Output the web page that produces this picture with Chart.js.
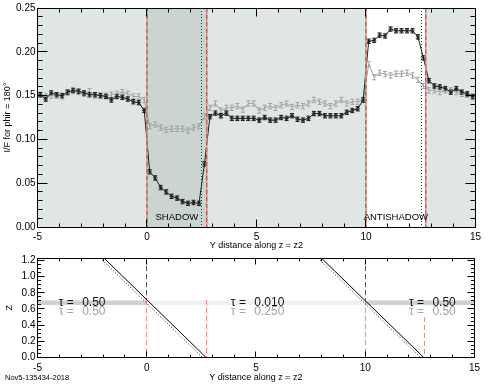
<!DOCTYPE html>
<html>
<head>
<meta charset="utf-8">
<script src="https://cdn.jsdelivr.net/npm/chart.js@4.4.0/dist/chart.umd.min.js"></script>
<style>
  html, body { margin: 0; padding: 0; background: #fff; }
  #wrap { position: relative; width: 485px; height: 386px; }
  #top { position: absolute; left: 0; top: 0; }
  #bottom { position: absolute; left: 0; top: 250px; }
  #stamp { position: absolute; left: 5px; top: 373px; font: 7.5px "Liberation Sans", Arial, sans-serif; color: #000; }
</style>
</head>
<body>
<div id="wrap">
  <canvas id="top" width="485" height="252"></canvas>
  <canvas id="bottom" width="485" height="136"></canvas>
  <div id="stamp">Nov5-135434-2018</div>
</div>
<script>
// sample positions along the ring (Y distance along z = z2)
const yPos = [
  -4.875, -4.625, -4.375, -4.125, -3.875, -3.625, -3.375, -3.125, -2.875, -2.625,
  -2.375, -2.125, -1.875, -1.625, -1.375, -1.125, -0.875, -0.625, -0.375, -0.125,
  0.125, 0.375, 0.625, 0.875, 1.125, 1.375, 1.625, 1.875, 2.125, 2.375, 2.625,
  2.875, 3.125, 3.375, 3.625, 3.875, 4.125, 4.375, 4.625, 4.875, 5.125,
  5.375, 5.625, 5.875, 6.125, 6.375, 6.625, 6.875, 7.125, 7.375, 7.625,
  7.875, 8.125, 8.375, 8.625, 8.875, 9.125, 9.375, 9.625, 9.875,
  10.125, 10.375, 10.625, 10.875, 11.125, 11.375, 11.625, 11.875, 12.125, 12.375,
  12.625, 12.875, 13.125, 13.375, 13.625, 13.875, 14.125, 14.375, 14.625, 14.875
]

// I/F, dark series
const blackIF = [
  0.151, 0.146, 0.153, 0.151, 0.150, 0.154, 0.156, 0.155, 0.153, 0.151,
  0.151, 0.150, 0.149, 0.145, 0.149, 0.148, 0.146, 0.143, 0.142, 0.133,
  0.063, 0.056, 0.045, 0.040, 0.035, 0.033, 0.029, 0.027, 0.028, 0.027, 0.072,
  0.126, 0.130, 0.127, 0.130, 0.124, 0.124, 0.124, 0.124, 0.124, 0.122,
  0.125, 0.122, 0.122, 0.125, 0.124, 0.127, 0.123, 0.122, 0.124, 0.1295,
  0.1295, 0.127, 0.127, 0.127, 0.127, 0.131, 0.133, 0.135, 0.145,
  0.212, 0.213, 0.219, 0.218, 0.226, 0.224, 0.224, 0.224, 0.224, 0.217,
  0.193, 0.167, 0.161, 0.160, 0.158, 0.154, 0.158, 0.154, 0.152, 0.149
]

// I/F, grey series
const grayIF = [
  0.151, 0.149, 0.150, 0.150, 0.149, 0.153, 0.155, 0.154, 0.152, 0.155,
  0.150, 0.150, 0.150, 0.151, 0.152, 0.154, 0.152, 0.149, 0.149, 0.145,
  0.115, 0.117, 0.1135, 0.111, 0.112, 0.112, 0.112, 0.110, 0.1135, 0.115, 0.126,
  0.136, 0.141, 0.133, 0.136, 0.136, 0.138, 0.134, 0.141, 0.141, 0.133,
  0.136, 0.138, 0.136, 0.139, 0.141, 0.137, 0.139, 0.138, 0.141, 0.145,
  0.143, 0.141, 0.138, 0.141, 0.145, 0.141, 0.143, 0.143, 0.145,
  0.186, 0.171, 0.176, 0.1745, 0.173, 0.175, 0.175, 0.176, 0.173, 0.168,
  0.161, 0.156, 0.156, 0.154, 0.156, 0.156, 0.154, 0.152, 0.151, 0.148
]

const blackErr = 0.0025
const grayErr = 0.003

// tick labels
const xTicks = [-5, 0, 5, 10, 15]
const ifTicks = [0, 0.05, 0.10, 0.15, 0.20, 0.25]
const zTicks = [0, 0.2, 0.4, 0.6, 0.8, 1.0, 1.2]

// shadow / antishadow geometry
const regionEdges = [-5, 0, 2.73, 10, 12.73, 15]
const edgeLines = [0, 2.73, 10, 12.73]
const dottedLines = [2.5, 12.55]
const regionNames = ['SHADOW', 'ANTISHADOW']
const regionNameX = [1.365, 11.365]

// lower panel
const rayZ = [1.23, 0]
const solidRayX = [[-1.96, 2.72], [7.99, 12.68]]
const dottedRayX = [[-2.13, 2.55], [7.84, 12.53]]
const edgeTopZ = [0.71, 0.71, 0.71, 0.5]
const upperDashX = [0, 10]
const bandZ = [0.65, 0.705]
const bandEdges = [-5, 0, 10, 15]
const tauX = [-4.03, 3.85, 12.0]
const tauOuter = ['0.50', '0.010', '0.50']
const tauInner = ['0.50', '0.250', '0.50']

const FONT = '"Liberation Sans", Arial, Helvetica, sans-serif'
Chart.defaults.font.family = FONT
Chart.defaults.color = '#000'

const regionFill = ['#dfe6e4', '#cad4d1', '#dfe6e4', '#ffffff', '#dfe6e4']
const bandFill = ['#c9d3d0', '#edf1f1', '#c9d3d0']
const redLine = '#ef8a84'
const noGrid = { display: false, drawTicks: false }

// inward ticks on all four sides + frame (IDL look)
const frameTicks = (xMinor, yMinor, xMaj, xMin, yMaj, yMin) => ({
  id: 'frameTicks',
  afterDraw(chart) {
    const { ctx, chartArea: a, scales: { x, y } } = chart
    const L = Math.floor(a.left) + 0.5, R = Math.floor(a.right) + 0.5
    const T = Math.floor(a.top) + 0.5, B = Math.floor(a.bottom) + 0.5
    ctx.save()
    ctx.strokeStyle = '#000'
    ctx.lineWidth = 1
    ctx.beginPath()
    ctx.rect(L, T, R - L, B - T)
    const xt = (v, len) => {
      const p = Math.floor(x.getPixelForValue(v)) + 0.5
      ctx.moveTo(p, B); ctx.lineTo(p, B - len)
      ctx.moveTo(p, T); ctx.lineTo(p, T + len)
    }
    const yt = (v, len) => {
      const p = Math.floor(y.getPixelForValue(v)) + 0.5
      ctx.moveTo(L, p); ctx.lineTo(L + len, p)
      ctx.moveTo(R, p); ctx.lineTo(R - len, p)
    }
    for (let k = Math.ceil(x.min / xMinor); k <= Math.floor(x.max / xMinor); k++) xt(k * xMinor, xMin)
    for (let k = Math.ceil(y.min / yMinor - 1e-6); k <= Math.floor(y.max / yMinor + 1e-6); k++) yt(k * yMinor, yMin)
    x.ticks.forEach(t => xt(t.value, xMaj))
    y.ticks.forEach(t => yt(t.value, yMaj))
    ctx.stroke()
    ctx.restore()
  }
})

const topDecor = {
  id: 'topDecor',
  beforeDatasetsDraw(chart) {
    const { ctx, chartArea: a, scales: { x, y } } = chart
    ctx.save()
    // background regions
    for (let i = 0; i < regionEdges.length - 1; i++) {
      const x0 = x.getPixelForValue(regionEdges[i]), x1 = x.getPixelForValue(regionEdges[i + 1])
      ctx.fillStyle = regionFill[i]
      ctx.fillRect(x0, a.top, x1 - x0, a.bottom - a.top)
    }
    // error bars
    ctx.beginPath()
    ctx.rect(a.left, a.top, a.right - a.left, a.bottom - a.top)
    ctx.clip()
    chart.data.datasets.slice().reverse().forEach(ds => {
      ctx.strokeStyle = ds.borderColor
      ctx.lineWidth = 1
      ctx.beginPath()
      ds.data.forEach(p => {
        const px = x.getPixelForValue(p.x)
        const y1 = y.getPixelForValue(p.y - ds.err), y2 = y.getPixelForValue(p.y + ds.err)
        ctx.moveTo(px, y1); ctx.lineTo(px, y2)
        ctx.moveTo(px - 2, y1); ctx.lineTo(px + 2, y1)
        ctx.moveTo(px - 2, y2); ctx.lineTo(px + 2, y2)
      })
      ctx.stroke()
    })
    ctx.restore()
  },
  afterDatasetsDraw(chart) {
    const { ctx, chartArea: a, scales: { x, y } } = chart
    ctx.save()
    edgeLines.forEach(v => {
      const p = x.getPixelForValue(v)
      ctx.setLineDash([])
      ctx.strokeStyle = redLine
      ctx.lineWidth = 1.6
      ctx.beginPath(); ctx.moveTo(p, a.top); ctx.lineTo(p, a.bottom); ctx.stroke()
      ctx.setLineDash([4, 3])
      ctx.strokeStyle = '#6b6b6b'
      ctx.lineWidth = 1
      ctx.beginPath(); ctx.moveTo(p, a.top); ctx.lineTo(p, a.bottom); ctx.stroke()
    })
    ctx.setLineDash([1, 2])
    ctx.strokeStyle = '#333'
    dottedLines.forEach(v => {
      const p = Math.floor(x.getPixelForValue(v)) + 0.5
      ctx.beginPath(); ctx.moveTo(p, a.top); ctx.lineTo(p, a.bottom); ctx.stroke()
    })
    ctx.setLineDash([])
    ctx.fillStyle = '#000'
    ctx.font = '9.5px ' + FONT
    ctx.textAlign = 'center'
    ctx.textBaseline = 'middle'
    regionNames.forEach((name, i) => {
      ctx.fillText(name, x.getPixelForValue(regionNameX[i]), y.getPixelForValue(0.0115))
    })
    ctx.restore()
  }
}

new Chart(document.getElementById('top'), {
  type: 'line',
  data: {
    datasets: [
      {
        label: 'dark',
        data: yPos.map((v, i) => ({ x: v, y: blackIF[i] })),
        err: blackErr,
        borderColor: '#1e1e1e',
        borderWidth: 1,
        pointStyle: 'star',
        pointRadius: 2.2,
        pointBorderColor: '#1e1e1e',
        pointBorderWidth: 0.8,
        tension: 0,
      },
      {
        label: 'grey',
        data: yPos.map((v, i) => ({ x: v, y: grayIF[i] })),
        err: grayErr,
        borderColor: '#9ca5a3',
        borderWidth: 1,
        pointRadius: 0,
        tension: 0,
      },
    ],
  },
  options: {
    responsive: false,
    animation: false,
    devicePixelRatio: 1,
    layout: { padding: { left: 0, right: 5.5, top: 7, bottom: 0 } },
    plugins: { legend: { display: false }, tooltip: { enabled: false } },
    scales: {
      x: {
        type: 'linear', min: -5, max: 15,
        afterBuildTicks: s => { s.ticks = xTicks.map(v => ({ value: v })) },
        afterFit: s => { s.height = 25 },
        grid: noGrid, border: { display: false },
        ticks: { padding: 4, autoSkip: false, maxRotation: 0, font: { size: 10 }, callback: v => String(v) },
        title: { display: true, text: 'Y distance along z = z2', font: { size: 9 }, padding: { top: 0, bottom: 1 } },
      },
      y: {
        min: 0, max: 0.25,
        afterBuildTicks: s => { s.ticks = ifTicks.map(v => ({ value: v })) },
        afterFit: s => { s.width = 37.5 },
        grid: noGrid, border: { display: false },
        ticks: { padding: 2, autoSkip: false, font: { size: 10 }, callback: v => v.toFixed(2) },
        title: { display: true, text: 'I/F for phir = 180°', font: { size: 9 }, padding: { top: 2, bottom: 0 } },
      },
    },
  },
  plugins: [topDecor, frameTicks(1, 0.01, 8, 4, 10, 5)],
})

const bottomDecor = {
  id: 'bottomDecor',
  beforeDatasetsDraw(chart) {
    const { ctx, chartArea: a, scales: { x, y } } = chart
    ctx.save()
    const b0 = y.getPixelForValue(bandZ[1]), b1 = y.getPixelForValue(bandZ[0])
    for (let i = 0; i < bandEdges.length - 1; i++) {
      const x0 = x.getPixelForValue(bandEdges[i]), x1 = x.getPixelForValue(bandEdges[i + 1])
      ctx.fillStyle = bandFill[i]
      ctx.fillRect(x0, b0, x1 - x0, b1 - b0)
    }
    ctx.lineWidth = 1
    ctx.setLineDash([5, 3])
    ctx.strokeStyle = '#555'
    upperDashX.forEach(v => {
      const p = Math.floor(x.getPixelForValue(v)) + 0.5
      ctx.beginPath(); ctx.moveTo(p, a.top); ctx.lineTo(p, y.getPixelForValue(edgeTopZ[0])); ctx.stroke()
    })
    ctx.strokeStyle = redLine
    edgeLines.forEach((v, i) => {
      const p = Math.floor(x.getPixelForValue(v)) + 0.5
      ctx.beginPath(); ctx.moveTo(p, y.getPixelForValue(edgeTopZ[i])); ctx.lineTo(p, a.bottom); ctx.stroke()
    })
    ctx.setLineDash([])
    ctx.font = '12px ' + FONT
    ctx.textAlign = 'left'
    ctx.textBaseline = 'middle'
    tauX.forEach((v, i) => {
      const px = x.getPixelForValue(v)
      ctx.fillStyle = '#9ea7a5'
      const gy = y.getPixelForValue(0.57)
      ctx.fillText('τ =', px, gy)
      ctx.fillText(tauInner[i], px + 23.5, gy)
      ctx.fillStyle = '#111'
      const by = y.getPixelForValue(0.672)
      ctx.fillText('τ =', px, by)
      ctx.fillText(tauOuter[i], px + 23.5, by)
    })
    ctx.restore()
  }
}

const rayData = xs => xs.map((v, i) => ({ x: v, y: rayZ[i] }))

new Chart(document.getElementById('bottom'), {
  type: 'line',
  data: {
    datasets: [
      ...solidRayX.map(xs => ({ data: rayData(xs), borderColor: '#000', borderWidth: 1, pointRadius: 0 })),
      ...dottedRayX.map(xs => ({ data: rayData(xs), borderColor: '#222', borderWidth: 1, borderDash: [1, 2], pointRadius: 0 })),
    ],
  },
  options: {
    responsive: false,
    animation: false,
    devicePixelRatio: 1,
    layout: { padding: { left: 0, right: 5.5, top: 5, bottom: 0 } },
    plugins: { legend: { display: false }, tooltip: { enabled: false } },
    scales: {
      x: {
        type: 'linear', min: -5, max: 15,
        afterBuildTicks: s => { s.ticks = xTicks.map(v => ({ value: v })) },
        afterFit: s => { s.height = 28.5 },
        grid: noGrid, border: { display: false },
        ticks: { padding: 5, autoSkip: false, maxRotation: 0, font: { size: 10 }, callback: v => String(v) },
        title: { display: true, text: 'Y distance along z = z2', font: { size: 9 }, padding: { top: 0, bottom: 3 } },
      },
      y: {
        min: 0, max: 1.23,
        afterBuildTicks: s => { s.ticks = zTicks.map(v => ({ value: v })) },
        afterFit: s => { s.width = 37.5 },
        grid: noGrid, border: { display: false },
        ticks: { padding: 2, autoSkip: false, font: { size: 10 }, callback: v => v.toFixed(1) },
        title: { display: true, text: 'Z', font: { size: 9 }, padding: { top: 4, bottom: 0 } },
      },
    },
  },
  plugins: [bottomDecor, frameTicks(1, 0.05, 6, 3, 7, 3.5)],
})
</script>
</body>
</html>
